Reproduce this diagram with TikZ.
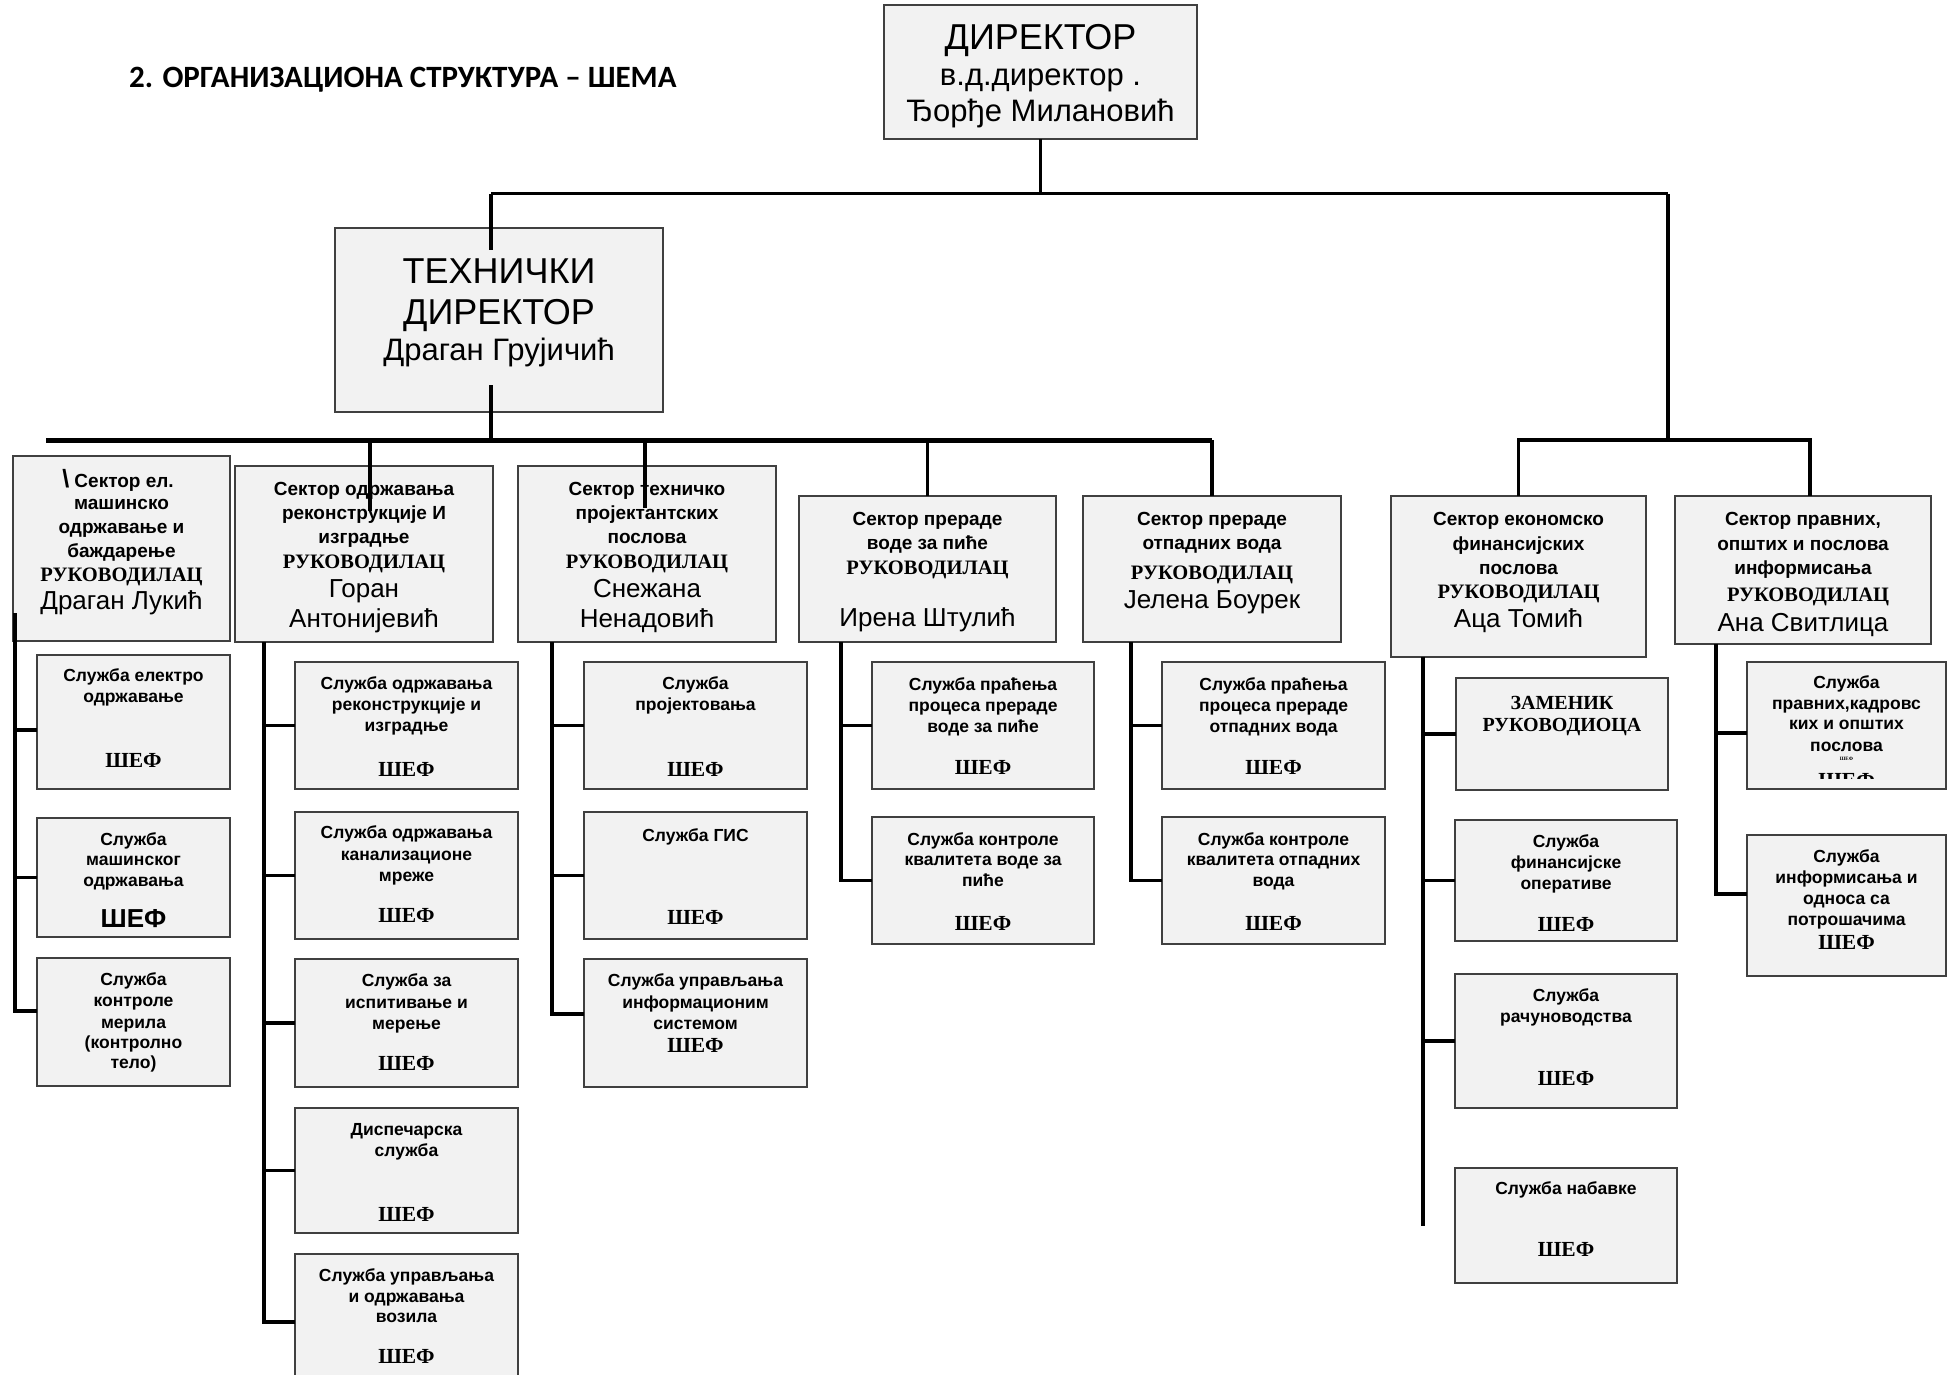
\documentclass[tikz,border=0pt]{standalone}
\usepackage{fontspec}
\setmainfont{Liberation Sans}
\newfontfamily\tnrfont{Liberation Serif}
\newfontfamily\carlitofont{Carlito}
\usetikzlibrary{calc}
\definecolor{boxfill}{HTML}{F2F2F2}
\definecolor{boxline}{HTML}{404040}
\newcommand\mkbox[5]{\node[boxst,minimum width=#4pt-#2pt,minimum height=#5pt-#3pt] (#1) at ({(#2+#4)/2},{(#3+#5)/2}) {};}
\newcommand\mktext[5]{\node[#1,anchor=base,inner sep=0pt] (#2) at (#3,#4) {#5};}
\begin{document}
\begin{tikzpicture}[x=1pt,y=-1pt,
  boxst/.style={draw=boxline,fill=boxfill,line width=1.6pt,inner sep=0pt,outer sep=0pt},
  conn/.style={draw=black,line width=3.4pt},
  topline/.style={draw=black,line width=3pt},
  bus/.style={draw=black,line width=5pt},
  fsect/.style={font=\fontsize{19}{23}\selectfont\bfseries},
  fruk/.style={font=\tnrfont\fontsize{20.5}{24}\selectfont\bfseries},
  fnm/.style={font=\fontsize{26}{30}\selectfont},
  fsub/.style={font=\fontsize{17.5}{21}\selectfont\bfseries},
  fshef/.style={font=\tnrfont\fontsize{21.5}{25}\selectfont\bfseries},
  fzam/.style={font=\tnrfont\fontsize{20}{24}\selectfont\bfseries},
  fbigshef/.style={font=\fontsize{26}{30}\selectfont\bfseries},
  fbig/.style={font=\fontsize{36}{40}\selectfont},
  fmid/.style={font=\fontsize{31}{35}\selectfont},
  ftiny/.style={font=\tnrfont\fontsize{5}{6}\selectfont\bfseries},
  fttl/.style={font=\carlitofont\fontsize{31}{36}\selectfont\bfseries}]
\useasboundingbox[fill=white] (0,0) rectangle (1949,1375);

% title
\node[fttl,anchor=base west,inner sep=0pt] (title) at (129,88) {2. ОРГАНИЗАЦИОНА СТРУКТУРА – ШЕМА};

% boxes
\mkbox{dir}{884}{5}{1197}{139}
\mkbox{tech}{335}{228}{663}{412}
\mkbox{s1}{13}{456}{230}{641}
\mkbox{s2}{235}{466}{493}{642}
\mkbox{s3}{518}{466}{776}{642}
\mkbox{s4}{799}{496}{1056}{642}
\mkbox{s5}{1083}{496}{1341}{642}
\mkbox{s6}{1391}{496}{1646}{657}
\mkbox{s7}{1675}{496}{1931}{644}
\mkbox{s1a}{37}{655}{230}{789}
\mkbox{s1b}{37}{818}{230}{937}
\mkbox{s1c}{37}{958}{230}{1086}
\mkbox{s2a}{295}{662}{518}{789}
\mkbox{s2b}{295}{812}{518}{939}
\mkbox{s2c}{295}{959}{518}{1087}
\mkbox{s2d}{295}{1108}{518}{1233}
\mkbox{s2e}{295}{1254}{518}{1390}
\mkbox{s3a}{584}{662}{807}{789}
\mkbox{s3b}{584}{812}{807}{939}
\mkbox{s3c}{584}{959}{807}{1087}
\mkbox{s4a}{872}{662}{1094}{789}
\mkbox{s4b}{872}{817}{1094}{944}
\mkbox{s5a}{1162}{662}{1385}{789}
\mkbox{s5b}{1162}{817}{1385}{944}
\mkbox{s6a}{1456}{678}{1668}{790}
\mkbox{s6b}{1455}{820}{1677}{941}
\mkbox{s6c}{1455}{974}{1677}{1108}
\mkbox{s6d}{1455}{1168}{1677}{1283}
\mkbox{s7a}{1747}{662}{1946}{789}
\mkbox{s7b}{1747}{835}{1946}{976}

% director texts
\mktext{fbig}{dirt1}{1040.5}{50}{ДИРЕКТОР}
\mktext{fmid}{dirt2}{1040.5}{86}{в.д.директор .}
\mktext{fmid}{dirt3}{1040.5}{122}{Ђорђе Милановић}
\mktext{fbig}{techt1}{499}{283}{ТЕХНИЧКИ}
\mktext{fbig}{techt2}{499}{324}{ДИРЕКТОР}
\mktext{fmid}{techt3}{499}{360.5}{Драган Грујичић}

% sector texts
\mktext{fsect}{s1t1}{118}{487}{{\fontsize{25}{25}\selectfont\textbackslash}\ Сектор ел.}
\mktext{fsect}{s1t2}{121.5}{509}{машинско}
\mktext{fsect}{s1t3}{121.5}{533.5}{одржавање и}
\mktext{fsect}{s1t4}{121.5}{557.5}{баждарење}
\mktext{fruk}{s1t5}{121.5}{581}{РУКОВОДИЛАЦ}
\mktext{fnm}{s1t6}{121.5}{609.5}{Драган Лукић}

\mktext{fsect}{s2t1}{364}{495.5}{Сектор одржавања}
\mktext{fsect}{s2t2}{364}{519}{реконструкције И}
\mktext{fsect}{s2t3}{364}{543.5}{изградње}
\mktext{fruk}{s2t4}{364}{568}{РУКОВОДИЛАЦ}
\mktext{fnm}{s2t5}{364}{597.5}{Горан}
\mktext{fnm}{s2t6}{364}{627.5}{Антонијевић}

\mktext{fsect}{s3t1}{647}{495.5}{Сектор техничко}
\mktext{fsect}{s3t2}{647}{519}{пројектантских}
\mktext{fsect}{s3t3}{647}{543.5}{послова}
\mktext{fruk}{s3t4}{647}{568}{РУКОВОДИЛАЦ}
\mktext{fnm}{s3t5}{647}{597.5}{Снежана}
\mktext{fnm}{s3t6}{647}{627.5}{Ненадовић}

\mktext{fsect}{s4t1}{927.5}{525.5}{Сектор прераде}
\mktext{fsect}{s4t2}{927.5}{549}{воде за пиће}
\mktext{fruk}{s4t3}{927.5}{574}{РУКОВОДИЛАЦ}
\mktext{fnm}{s4t4}{927.5}{626}{Ирена Штулић}

\mktext{fsect}{s5t1}{1212}{525.5}{Сектор прераде}
\mktext{fsect}{s5t2}{1212}{549.5}{отпадних вода}
\mktext{fruk}{s5t3}{1212}{579}{РУКОВОДИЛАЦ}
\mktext{fnm}{s5t4}{1212}{608}{Јелена Боурек}

\mktext{fsect}{s6t1}{1518.5}{525.5}{Сектор економско}
\mktext{fsect}{s6t2}{1518.5}{550}{финансијских}
\mktext{fsect}{s6t3}{1518.5}{574}{послова}
\mktext{fruk}{s6t4}{1518.5}{598}{РУКОВОДИЛАЦ}
\mktext{fnm}{s6t5}{1518.5}{627}{Аца Томић}

\mktext{fsect}{s7t1}{1803}{525.5}{Сектор правних,}
\mktext{fsect}{s7t2}{1803}{550}{општих и послова}
\mktext{fsect}{s7t3}{1803}{574}{информисања}
\mktext{fruk}{s7t4}{1808}{601.5}{РУКОВОДИЛАЦ}
\mktext{fnm}{s7t5}{1803}{631}{Ана Свитлица}

% service texts
\mktext{fsub}{s1at1}{133.5}{681.5}{Служба електро}
\mktext{fsub}{s1at2}{133.5}{702.5}{одржавање}
\mktext{fshef}{s1at3}{133.5}{767}{ШЕФ}
\mktext{fsub}{s1bt1}{133.5}{845}{Служба}
\mktext{fsub}{s1bt2}{133.5}{865.5}{машинског}
\mktext{fsub}{s1bt3}{133.5}{886.5}{одржавања}
\mktext{fbigshef}{s1bt4}{133.5}{927}{ШЕФ}
\mktext{fsub}{s1ct1}{133.5}{985.5}{Служба}
\mktext{fsub}{s1ct2}{133.5}{1006.5}{контроле}
\mktext{fsub}{s1ct3}{133.5}{1028}{мерила}
\mktext{fsub}{s1ct4}{133.5}{1048}{(контролно}
\mktext{fsub}{s1ct5}{133.5}{1068.5}{тело)}

\mktext{fsub}{s2at1}{406.5}{689}{Служба одржавања}
\mktext{fsub}{s2at2}{406.5}{710.5}{реконструкције и}
\mktext{fsub}{s2at3}{406.5}{731.5}{изградње}
\mktext{fshef}{s2at4}{406.5}{776}{ШЕФ}
\mktext{fsub}{s2bt1}{406.5}{838}{Служба одржавања}
\mktext{fsub}{s2bt2}{406.5}{860}{канализационе}
\mktext{fsub}{s2bt3}{406.5}{881}{мреже}
\mktext{fshef}{s2bt4}{406.5}{922}{ШЕФ}
\mktext{fsub}{s2ct1}{406.5}{986}{Служба за}
\mktext{fsub}{s2ct2}{406.5}{1008}{испитивање и}
\mktext{fsub}{s2ct3}{406.5}{1029}{мерење}
\mktext{fshef}{s2ct4}{406.5}{1070}{ШЕФ}
\mktext{fsub}{s2dt1}{406.5}{1135}{Диспечарска}
\mktext{fsub}{s2dt2}{406.5}{1156.5}{служба}
\mktext{fshef}{s2dt3}{406.5}{1221.5}{ШЕФ}
\mktext{fsub}{s2et1}{406.5}{1281}{Служба управљања}
\mktext{fsub}{s2et2}{406.5}{1302}{и одржавања}
\mktext{fsub}{s2et3}{406.5}{1322.5}{возила}
\mktext{fshef}{s2et4}{406.5}{1363}{ШЕФ}

\mktext{fsub}{s3at1}{695.5}{689}{Служба}
\mktext{fsub}{s3at2}{695.5}{710.5}{пројектовања}
\mktext{fshef}{s3at3}{695.5}{776}{ШЕФ}
\mktext{fsub}{s3bt1}{695.5}{841}{Служба ГИС}
\mktext{fshef}{s3bt2}{695.5}{924}{ШЕФ}
\mktext{fsub}{s3ct1}{695.5}{986}{Служба управљања}
\mktext{fsub}{s3ct2}{695.5}{1008}{информационим}
\mktext{fsub}{s3ct3}{695.5}{1029}{системом}
\mktext{fshef}{s3ct4}{695.5}{1052}{ШЕФ}

\mktext{fsub}{s4at1}{983}{690}{Служба праћења}
\mktext{fsub}{s4at2}{983}{711}{процеса прераде}
\mktext{fsub}{s4at3}{983}{732}{воде за пиће}
\mktext{fshef}{s4at4}{983}{774}{ШЕФ}
\mktext{fsub}{s4bt1}{983}{845}{Служба контроле}
\mktext{fsub}{s4bt2}{983}{865.5}{квалитета воде за}
\mktext{fsub}{s4bt3}{983}{886}{пиће}
\mktext{fshef}{s4bt4}{983}{930}{ШЕФ}

\mktext{fsub}{s5at1}{1273.5}{690}{Служба праћења}
\mktext{fsub}{s5at2}{1273.5}{711}{процеса прераде}
\mktext{fsub}{s5at3}{1273.5}{732}{отпадних вода}
\mktext{fshef}{s5at4}{1273.5}{774}{ШЕФ}
\mktext{fsub}{s5bt1}{1273.5}{845}{Служба контроле}
\mktext{fsub}{s5bt2}{1273.5}{865.5}{квалитета отпадних}
\mktext{fsub}{s5bt3}{1273.5}{886}{вода}
\mktext{fshef}{s5bt4}{1273.5}{930}{ШЕФ}

\mktext{fzam}{s6at1}{1562}{709}{ЗАМЕНИК}
\mktext{fzam}{s6at2}{1562}{731.5}{РУКОВОДИОЦА}
\mktext{fsub}{s6bt1}{1566}{847}{Служба}
\mktext{fsub}{s6bt2}{1566}{868}{финансијске}
\mktext{fsub}{s6bt3}{1566}{889}{оперативе}
\mktext{fshef}{s6bt4}{1566}{931}{ШЕФ}
\mktext{fsub}{s6ct1}{1566}{1001}{Служба}
\mktext{fsub}{s6ct2}{1566}{1022.5}{рачуноводства}
\mktext{fshef}{s6ct3}{1566}{1085}{ШЕФ}
\mktext{fsub}{s6dt1}{1566}{1194.5}{Служба набавке}
\mktext{fshef}{s6dt2}{1566}{1256.5}{ШЕФ}

\mktext{fsub}{s7at1}{1846.5}{688}{Служба}
\mktext{fsub}{s7at2}{1846.5}{709.5}{правних,кадровс}
\mktext{fsub}{s7at3}{1846.5}{729.5}{ких и општих}
\mktext{fsub}{s7at4}{1846.5}{751}{послова}
\mktext{ftiny}{s7at5}{1846.5}{760}{ШЕФ}
\begin{scope}
\clip (1747,662) rectangle (1946,778.5);
\mktext{fshef}{s7at6}{1846.5}{787}{ШЕФ}
\end{scope}
\mktext{fsub}{s7bt1}{1846.5}{862}{Служба}
\mktext{fsub}{s7bt2}{1846.5}{883}{информисања и}
\mktext{fsub}{s7bt3}{1846.5}{904}{односа са}
\mktext{fsub}{s7bt4}{1846.5}{925}{потрошачима}
\mktext{fshef}{s7bt5}{1846.5}{949}{ШЕФ}

% connector anchors
\coordinate (tbL) at (491,194);
\coordinate (tbR) at (1668,194);
\coordinate (techtop) at (491,250);
\coordinate (techin) at (491,385);
\coordinate (busL) at (46,440);
\coordinate (rb) at (1668,440);
\coordinate (s2in) at (370,511);
\coordinate (s3in) at (645,508);
\coordinate (s7n) at ([xshift=7pt]s7.north);
\coordinate (s1tr) at (15,613);
\coordinate (s2tr) at (264,642);
\coordinate (s3tr) at (552,642);
\coordinate (s4tr) at (841,642);
\coordinate (s5tr) at (1131,642);
\coordinate (s6tr) at (1423,657);
\coordinate (s7tr) at (1716,644);
\coordinate (s1as) at ([yshift=-8pt]s1a.west);
\coordinate (s1cs) at ([yshift=11pt]s1c.west);
\coordinate (s3cs) at ([yshift=9pt]s3c.west);
\coordinate (s7as) at ([yshift=-7.5pt]s7a.west);
\coordinate (s7bs) at ([yshift=11.5pt]s7b.west);

% top level
\draw[conn] (dir.south) -- (dir.south |- tbL);
\draw[topline] (tbL) -- (tbR);
\draw[conn] (tbL) -- (techtop);
\draw[conn] (tbR) -- (rb);
\draw[conn,line join=miter] (s6.north) -- (s6.north |- rb) -- (s7n |- rb) -- (s7n);
\draw[conn] (techin) -- (techin |- busL);
\draw[bus] (busL) -- (busL -| s5.north);
\draw[conn] (s2in |- busL) -- (s2in);
\draw[conn] (s3in |- busL) -- (s3in);
\draw[conn] (s4.north |- busL) -- (s4.north);
\draw[conn] (s5.north |- busL) -- (s5.north);

% trunks and stubs
\draw[conn] (s1tr) |- (s1cs);
\draw[conn] (s1tr |- s1as) -- (s1as);
\draw[conn] (s1tr |- s1b.west) -- (s1b.west);

\draw[conn] (s2tr) |- (s2e.west);
\draw[conn] (s2tr |- s2a.west) -- (s2a.west);
\draw[conn] (s2tr |- s2b.west) -- (s2b.west);
\draw[conn] (s2tr |- s2c.west) -- (s2c.west);
\draw[conn] (s2tr |- s2d.west) -- (s2d.west);

\draw[conn] (s3tr) |- (s3cs);
\draw[conn] (s3tr |- s3a.west) -- (s3a.west);
\draw[conn] (s3tr |- s3b.west) -- (s3b.west);

\draw[conn] (s4tr) |- (s4b.west);
\draw[conn] (s4tr |- s4a.west) -- (s4a.west);

\draw[conn] (s5tr) |- (s5b.west);
\draw[conn] (s5tr |- s5a.west) -- (s5a.west);

\draw[conn] (s6tr) -- (s6tr |- s6d.west);
\draw[conn] (s6tr |- s6a.west) -- (s6a.west);
\draw[conn] (s6tr |- s6b.west) -- (s6b.west);
\draw[conn] (s6tr |- s6c.west) -- (s6c.west);

\draw[conn] (s7tr) |- (s7bs);
\draw[conn] (s7tr |- s7as) -- (s7as);
\end{tikzpicture}
\end{document}
